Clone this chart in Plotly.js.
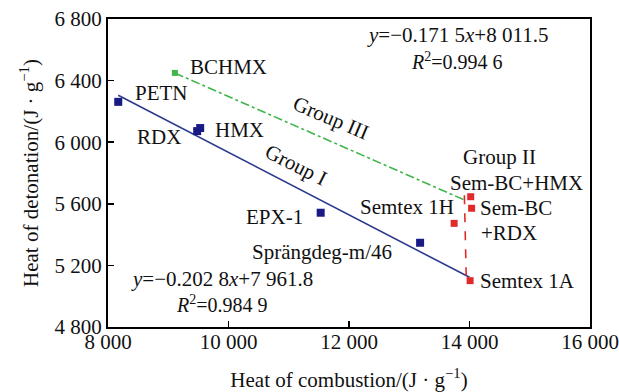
<!DOCTYPE html>
<html>
<head>
<meta charset="utf-8">
<script src="https://cdn.plot.ly/plotly-3.0.1.min.js"></script>
<style>html,body{margin:0;padding:0;background:#fff;}#chart{width:619px;height:392px;}</style>
</head>
<body>
<div id="chart"></div>
<script>
// ---- data ----
const groupINames = ["PETN", "RDX", "HMX", "EPX-1", "Sprängdeg-m/46"];
const groupIX = [8170, 9480, 9530, 11530, 13180];
const groupIY = [6262, 6072, 6092, 5542, 5347];

const groupIINames = ["Semtex 1A", "Semtex 1H", "Sem-BC+RDX", "Sem-BC+HMX"];
const groupIIX = [14010, 13745, 14035, 14020];
const groupIIY = [5101, 5473, 5571, 5646];

const groupIIINames = ["BCHMX"];
const groupIIIX = [9110];
const groupIIIY = [6450];

// fit lines: y = slope*x + intercept
const fitI = {slope: -0.2028, intercept: 7961.8};
const fitIRangeX = [8170, 14000];
const fitIII = {slope: -0.1715, intercept: 8011.5};
const fitIIIRangeX = [9110, 13900];
const fitIIX = [13915, 13945];
const fitIIY = [5655, 5135];

const xTickVals = [8000, 10000, 12000, 14000, 16000];
const xTickText = ["8 000", "10 000", "12 000", "14 000", "16 000"];
const yTickVals = [4800, 5200, 5600, 6000, 6400, 6800];
const yTickText = ["4 800", "5 200", "5 600", "6 000", "6 400", "6 800"];

const FONT = "Liberation Serif, Times New Roman, serif";
const FS = 21;

const lineY = (f, xs) => xs.map(x => f.slope * x + f.intercept);

const traces = [
  {x: fitIRangeX, y: lineY(fitI, fitIRangeX), mode: "lines", line: {color: "#2b3a8c", width: 1.6}, hoverinfo: "skip"},
  {x: fitIIIRangeX, y: lineY(fitIII, fitIIIRangeX), mode: "lines", line: {color: "#3fb54a", width: 1.6, dash: "dashdot"}, hoverinfo: "skip"},
  {x: fitIIX, y: fitIIY, mode: "lines", line: {color: "#e02a2a", width: 1.6, dash: "dash"}, hoverinfo: "skip"},
  {x: groupIX, y: groupIY, text: groupINames, mode: "markers", marker: {symbol: "square", size: 8, color: "#1a1a85"}},
  {x: groupIIX, y: groupIIY, text: groupIINames, mode: "markers", marker: {symbol: "square", size: 7, color: "#e02a2a"}},
  {x: groupIIIX, y: groupIIIY, text: groupIIINames, mode: "markers", marker: {symbol: "square", size: 6, color: "#3fb54a"}}
];

function ann(text, x, y, xanchor, extra) {
  return Object.assign({text: text, x: x, y: y, xref: "x", yref: "y", showarrow: false,
    xanchor: xanchor || "center", yanchor: "middle", font: {family: FONT, size: FS, color: "#111"}}, extra || {});
}

const annotations = [
  ann("BCHMX", 9328, 6488, "left"),
  ann("PETN", 8415, 6319, "left"),
  ann("RDX", 8448, 6034, "left"),
  ann("HMX", 9743, 6079, "left"),
  ann("EPX-1", 11270, 5514, "right"),
  ann("Sprängdeg-m/46", 11544, 5287, "center"),
  ann("Semtex 1H", 13776, 5579, "right"),
  ann("Group II", 14506, 5904, "center"),
  ann("Sem-BC+HMX", 14788, 5735, "center"),
  ann("Sem-BC", 14141, 5573, "left"),
  ann("+RDX", 14150, 5412, "left"),
  ann("Semtex 1A", 14141, 5099, "left"),
  ann("Group III", 11701, 6157, "center", {textangle: 23}),
  ann("Group I", 11120, 5852, "center", {textangle: 27}),
  ann("<i>y</i>=−0.171 5<i>x</i>+8 011.5", 13793, 6695, "center"),
  ann("<i>R</i><sup>2</sup>=0.994 6", 13793, 6528, "center", {font: {family: FONT, size: 20, color: "#111"}}),
  ann("<i>y</i>=−0.202 8<i>x</i>+7 961.8", 9892, 5112, "center"),
  ann("<i>R</i><sup>2</sup>=0.984 9", 9892, 4950, "center", {font: {family: FONT, size: 20, color: "#111"}})
];

const axisCommon = {
  showgrid: false, zeroline: false, showline: true, linecolor: "#000", linewidth: 2,
  mirror: true, ticks: "inside", ticklen: 6, tickwidth: 1.5, tickcolor: "#000",
  tickfont: {family: FONT, size: FS, color: "#111"}
};

const layout = {
  width: 619, height: 392,
  margin: {l: 108, r: 29, t: 19, b: 65},
  paper_bgcolor: "#fff", plot_bgcolor: "#fff",
  showlegend: false,
  xaxis: Object.assign({}, axisCommon, {
    range: [8000, 16000], tickvals: xTickVals, ticktext: xTickText,
    ticklabelstandoff: -5,
    title: {text: "Heat of combustion/(J · g<sup>−1</sup>)", font: {family: FONT, size: FS, color: "#111"}, standoff: 19}
  }),
  yaxis: Object.assign({}, axisCommon, {
    range: [4800, 6800], tickvals: yTickVals, ticktext: yTickText,
    title: {text: "Heat of detonation/(J · g<sup>−1</sup>)", font: {family: FONT, size: FS, color: "#111"}, standoff: 10}
  }),
  annotations: annotations
};

Plotly.newPlot("chart", traces, layout, {staticPlot: true, displayModeBar: false});
</script>
</body>
</html>
